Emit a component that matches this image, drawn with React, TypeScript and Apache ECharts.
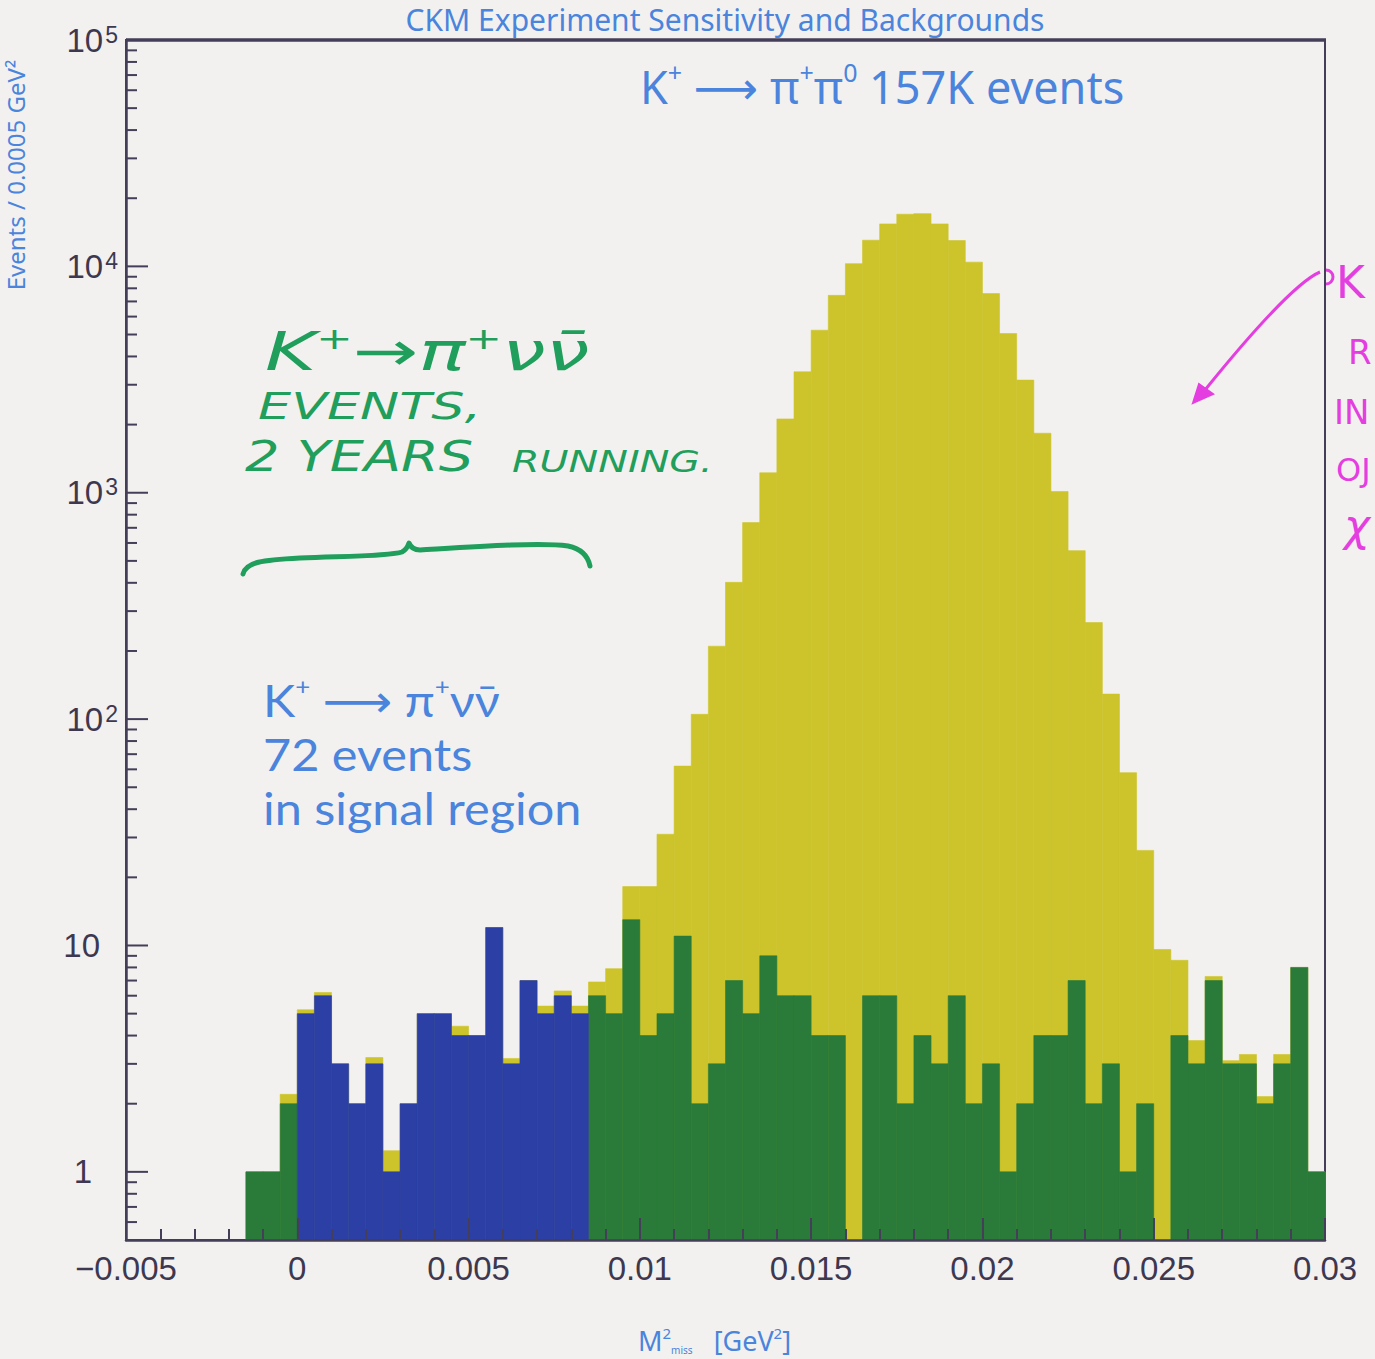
import React, { useEffect, useRef } from 'react';
import * as echarts from 'echarts';

// ---- axes ----
const X_MIN = -0.005;
const X_MAX = 0.03;
const X_STEP = 0.005;
const Y_MIN = 0.5;
const Y_MAX = 100000;

// ---- histogram binning ----
const binStart = -0.0015; // lower edge of first filled bin
const signalStart = 0; // lower edge of first signal-region bin
const binWidth = 0.0005;

// total stacked height (backgrounds + K+ -> pi+ pi0), per bin from -0.0015
const totalCounts = [
  1, 1, 2.2,
  5.2, 6.2, 3, 2, 3.2, 1.24, 2, 5, 5, 4.4, 4, 12, 3.17, 7, 5.4, 6.3, 5.4,
  6.9, 7.9, 18.2, 18.2, 31, 62, 105, 210, 402, 738, 1225, 2118, 3422, 5224, 7447,
  10280, 13050, 15400, 17000, 17100, 15400, 13000, 10440, 7580, 5050, 3145, 1832,
  1013, 555, 267, 129, 58, 26.3, 9.6, 8.6, 3.8, 7.3, 3.1, 3.3, 2.15, 3.3, 8, 1,
];
// other backgrounds (green), per bin from -0.0015 (null inside the signal region)
const backgroundCounts = [
  1, 1, 2,
  null, null, null, null, null, null, null, null, null, null, null, null, null, null, null, null, null,
  6, 5, 13, 4, 5, 11, 2, 3, 7, 5, 9, 6, 6, 4, 4, 0, 6, 6, 2, 4, 3, 6, 2, 3, 1, 2, 4,
  4, 7, 2, 3, 1, 2, 0, 4, 3, 7, 3, 3, 2, 3, 8, 1,
];
// K+ -> pi+ nu nubar signal (blue), per bin from 0
const signalCounts = [5, 6, 3, 2, 3, 1, 2, 5, 5, 4, 4, 12, 3, 7, 5, 6, 5];

// y-axis log tick decorations
const tickDecades = [0.1, 1, 10, 100, 1000, 10000, 100000];
const tickMultipliers = [1, 2, 3, 4, 5, 6, 7, 8, 9];

const AXIS = '#443e58';
const LABEL = '#3d3850';
const BLUE_TXT = '#4a84dc';
const YELLOW = '#cdc42b';
const GREEN = '#2a7b39';
const BLUE = '#2b3fa5';
const PEN_GREEN = '#1f9e5c';
const MAGENTA = '#e43ee0';
const BG = '#f3f1ef';

const SANS = '"Liberation Sans", Arial, sans-serif';
const ROUND = '"Noto Sans", "DejaVu Sans", sans-serif';
const COMPACT = 'Lato, "DejaVu Sans", sans-serif';
const PEN = '"DejaVu Sans", sans-serif';

function histItem(color: string) {
  return (params: any, api: any) => {
    const x0 = api.value(0);
    const v = api.value(1);
    if (!(v > 0)) return null;
    const bl = api.coord([x0, Y_MIN]);
    const tr = api.coord([x0 + binWidth, v]);
    return {
      type: 'rect',
      shape: { x: bl[0], y: tr[1], width: tr[0] - bl[0], height: bl[1] - tr[1] },
      style: { fill: color, stroke: color, lineWidth: 0.6 },
    };
  };
}

export default function App() {
  const ref = useRef<HTMLDivElement>(null);

  useEffect(() => {
    if (!ref.current) return;
    echarts.graphic.registerShape(
      'brace',
      echarts.graphic.extendPath(
        'M243 574 C246 562 262 560 300 558 C350 556 390 556 402 552 C406 550 408 546 409 543 C411 548 414 550 420 550 C470 547 540 542 568 546 C582 549 588 556 590 566',
        {}
      )
    );
    const chart = echarts.init(ref.current, null, { renderer: 'svg' });

    const yTicks: number[][] = [];
    tickDecades.forEach((d) => {
      tickMultipliers.forEach((m) => {
        const v = d * m;
        if (v >= Y_MIN - 1e-9 && v <= Y_MAX + 1e-9) yTicks.push([X_MIN, v, m === 1 ? 1 : 0]);
      });
    });

    const totalData = totalCounts.map((v, i) => [binStart + i * binWidth, v]);
    const bgData = backgroundCounts.map((v, i) => [binStart + i * binWidth, v == null ? 0 : v]);
    const sigData = signalCounts.map((v, i) => [signalStart + i * binWidth, v]);

    const penText = (x: number, y: number, text: string, fontSize: number, scaleX: number) => ({
      type: 'text', x, y, z: 20, scaleX,
      style: { text, fill: PEN_GREEN, fontSize, fontStyle: 'italic', fontFamily: PEN, align: 'left', verticalAlign: 'middle' },
    });
    const magText = (x: number, y: number, text: string, fontSize: number, italic = false) => ({
      type: 'text', x, y, z: 20,
      style: { text, fill: MAGENTA, fontSize, fontStyle: italic ? 'italic' : 'normal', fontFamily: PEN, align: 'left', verticalAlign: 'middle' },
    });

    const option: any = {
      animation: false,
      backgroundColor: BG,
      grid: {
        left: 126,
        right: 50,
        top: 40,
        bottom: 119,
        show: true,
        borderColor: AXIS,
        borderWidth: 2,
        containLabel: false,
        outerBoundsMode: 'none',
      },
      xAxis: {
        type: 'value',
        min: X_MIN,
        max: X_MAX,
        interval: X_STEP,
        z: 10,
        axisLine: { show: true, onZero: false, lineStyle: { color: AXIS, width: 2.5 } },
        axisTick: { show: true, inside: true, length: 22, lineStyle: { color: AXIS, width: 2 } },
        minorTick: { show: true, splitNumber: 5, length: 11, lineStyle: { color: AXIS, width: 2 } },
        splitLine: { show: false },
        axisLabel: {
          margin: 12,
          color: LABEL,
          fontSize: 33,
          fontFamily: SANS,
          formatter: (v: number) => {
            if (Math.abs(v) < 1e-12) return '0';
            return Number(v.toFixed(4)).toString().replace('-', '\u2212');
          },
        },
      },
      yAxis: {
        type: 'log',
        logBase: 10,
        min: Y_MIN,
        max: Y_MAX,
        z: 10,
        axisLine: { show: true, onZero: false, lineStyle: { color: AXIS, width: 2.5 } },
        axisTick: { show: false },
        splitLine: { show: false },
        minorTick: { show: false },
        axisLabel: {
          margin: 8,
          color: LABEL,
          fontFamily: SANS,
          fontSize: 33,
          formatter: (v: number) => {
            const l = Math.log10(v);
            const e = Math.round(l);
            if (Math.abs(l - e) > 1e-6) return '';
            if (e === 0) return '{p1|1}';
            if (e === 1) return '{p10|10}';
            return '{b|10}{s|' + e + '}';
          },
          rich: {
            b: { fontSize: 33, fontFamily: SANS, color: LABEL, lineHeight: 34, padding: [20, 2, 20, 0] },
            s: { fontSize: 23, fontFamily: SANS, color: LABEL, lineHeight: 24, verticalAlign: 'top' },
            p10: { fontSize: 33, fontFamily: SANS, color: LABEL, padding: [0, 18, 0, 0] },
            p1: { fontSize: 33, fontFamily: SANS, color: LABEL, padding: [0, 26, 0, 0] },
          },
        },
      },
      series: [
        { type: 'custom', name: 'total', data: totalData, renderItem: histItem(YELLOW), z: 2, silent: true },
        { type: 'custom', name: 'background', data: bgData, renderItem: histItem(GREEN), z: 3, silent: true },
        { type: 'custom', name: 'signal', data: sigData, renderItem: histItem(BLUE), z: 4, silent: true },
        {
          type: 'custom',
          name: 'yticks',
          data: yTicks,
          z: 12,
          silent: true,
          renderItem: (params: any, api: any) => {
            const v = api.value(1);
            const p = api.coord([X_MIN, v]);
            const len = api.value(2) ? 22 : 11;
            return {
              type: 'line',
              shape: { x1: p[0], y1: p[1], x2: p[0] + len, y2: p[1] },
              style: { stroke: AXIS, lineWidth: 2 },
            };
          },
        },
      ],
      graphic: [
        // top frame thicker line
        { type: 'line', z: 20, shape: { x1: 126, y1: 40, x2: 1326, y2: 40 }, style: { stroke: AXIS, lineWidth: 3.5 } },
        // title
        {
          type: 'text', x: 725, y: 19, z: 20,
          style: { text: 'CKM Experiment Sensitivity and Backgrounds', fill: BLUE_TXT, fontSize: 30, lineHeight: 34, fontFamily: ROUND, align: 'center', verticalAlign: 'middle' },
        },
        // y-axis title
        {
          type: 'text', x: 15, y: 175, rotation: Math.PI / 2, z: 20,
          style: { text: 'Events / 0.0005 GeV\u00b2', fill: BLUE_TXT, fontSize: 24, lineHeight: 26, fontFamily: ROUND, align: 'center', verticalAlign: 'middle' },
        },
        // K+ -> pi+ pi0 annotation
        {
          type: 'text', x: 640, y: 86, z: 20,
          style: {
            text: '{n|K}{s|+}{n| \u27f6 \u03c0}{s|+}{n|\u03c0}{s|0}{n| 157K events}',
            align: 'left', verticalAlign: 'middle',
            rich: {
              n: { fill: BLUE_TXT, fontSize: 45, fontFamily: ROUND, lineHeight: 54, verticalAlign: 'middle' },
              s: { fill: BLUE_TXT, fontSize: 25, fontFamily: ROUND, lineHeight: 24, verticalAlign: 'top' },
            },
          },
        },
        // signal annotation (one block, three lines)
        {
          type: 'text', x: 263, y: 754, z: 20, scaleX: 1.08,
          style: {
            text: '{n|K}{s|+}{n| \u27f6 \u03c0}{s|+}{n|\u03bd\u03bd\u0304}\n{n|72 events}\n{n|in signal region}',
            align: 'left', verticalAlign: 'middle',
            rich: {
              n: { fill: BLUE_TXT, fontSize: 45, fontFamily: COMPACT, lineHeight: 54, verticalAlign: 'middle' },
              s: { fill: BLUE_TXT, fontSize: 24, fontFamily: COMPACT, lineHeight: 24, verticalAlign: 'top' },
            },
          },
        },
        // handwritten green note
        {
          type: 'text', x: 265, y: 352, z: 20, scaleX: 1.45,
          style: {
            text: '{n|K}{s|+}{n|\u2192\u03c0}{s|+}{n|\u03bd\u03bd\u0304}',
            align: 'left', verticalAlign: 'middle',
            rich: {
              n: { fill: PEN_GREEN, fontSize: 54, fontStyle: 'italic', fontFamily: PEN, lineHeight: 56, verticalAlign: 'middle' },
              s: { fill: PEN_GREEN, fontSize: 30, fontStyle: 'italic', fontFamily: PEN, lineHeight: 28, verticalAlign: 'top' },
            },
          },
        },
        penText(258, 406, 'EVENTS,', 38, 1.38),
        penText(245, 456, '2 YEARS', 42, 1.29),
        penText(512, 461, 'RUNNING.', 31, 1.28),
        {
          type: 'brace', x: 0, y: 0, z: 20,
          style: { fill: 'none', stroke: PEN_GREEN, lineWidth: 5, lineCap: 'round', lineJoin: 'round' },
        },
        // magenta arrow and note at right edge
        {
          type: 'bezierCurve', z: 20,
          shape: { x1: 1320, y1: 272, cpx1: 1290, cpy1: 285, x2: 1205, y2: 390 },
          style: { stroke: MAGENTA, lineWidth: 3, fill: 'none' },
        },
        {
          type: 'arc', z: 20,
          shape: { cx: 1326, cy: 277, r: 7, startAngle: -Math.PI / 2, endAngle: Math.PI / 2 },
          style: { stroke: MAGENTA, lineWidth: 3, fill: 'none' },
        },
        {
          type: 'polygon', z: 20,
          shape: { points: [[1193, 403], [1199, 384], [1213, 394]] },
          style: { fill: MAGENTA, stroke: MAGENTA, lineWidth: 2 },
        },
        magText(1336, 282, 'K', 44),
        magText(1348, 352, 'R', 34),
        magText(1334, 412, 'IN', 34),
        magText(1336, 470, 'OJ', 32),
        magText(1344, 525, '\u03c7', 44, true),
        // x-axis title
        {
          type: 'text', x: 638, y: 1340, z: 20,
          style: {
            text: '{m|M}{s|2}{u|miss}{m|   [GeV}{s|2}{m|]}',
            align: 'left', verticalAlign: 'middle',
            rich: {
              m: { fill: BLUE_TXT, fontSize: 27, fontFamily: ROUND, lineHeight: 30, verticalAlign: 'middle' },
              s: { fill: BLUE_TXT, fontSize: 15, fontFamily: ROUND, lineHeight: 14, verticalAlign: 'top' },
              u: { fill: BLUE_TXT, fontSize: 10, fontFamily: ROUND, lineHeight: 14, verticalAlign: 'bottom' },
            },
          },
        },
      ],
    };

    chart.setOption(option);
    return () => chart.dispose();
  }, []);

  return (
    <div
      ref={ref}
      style={{ position: 'absolute', left: 0, top: 0, width: 1375, height: 1359, background: BG }}
    />
  );
}
